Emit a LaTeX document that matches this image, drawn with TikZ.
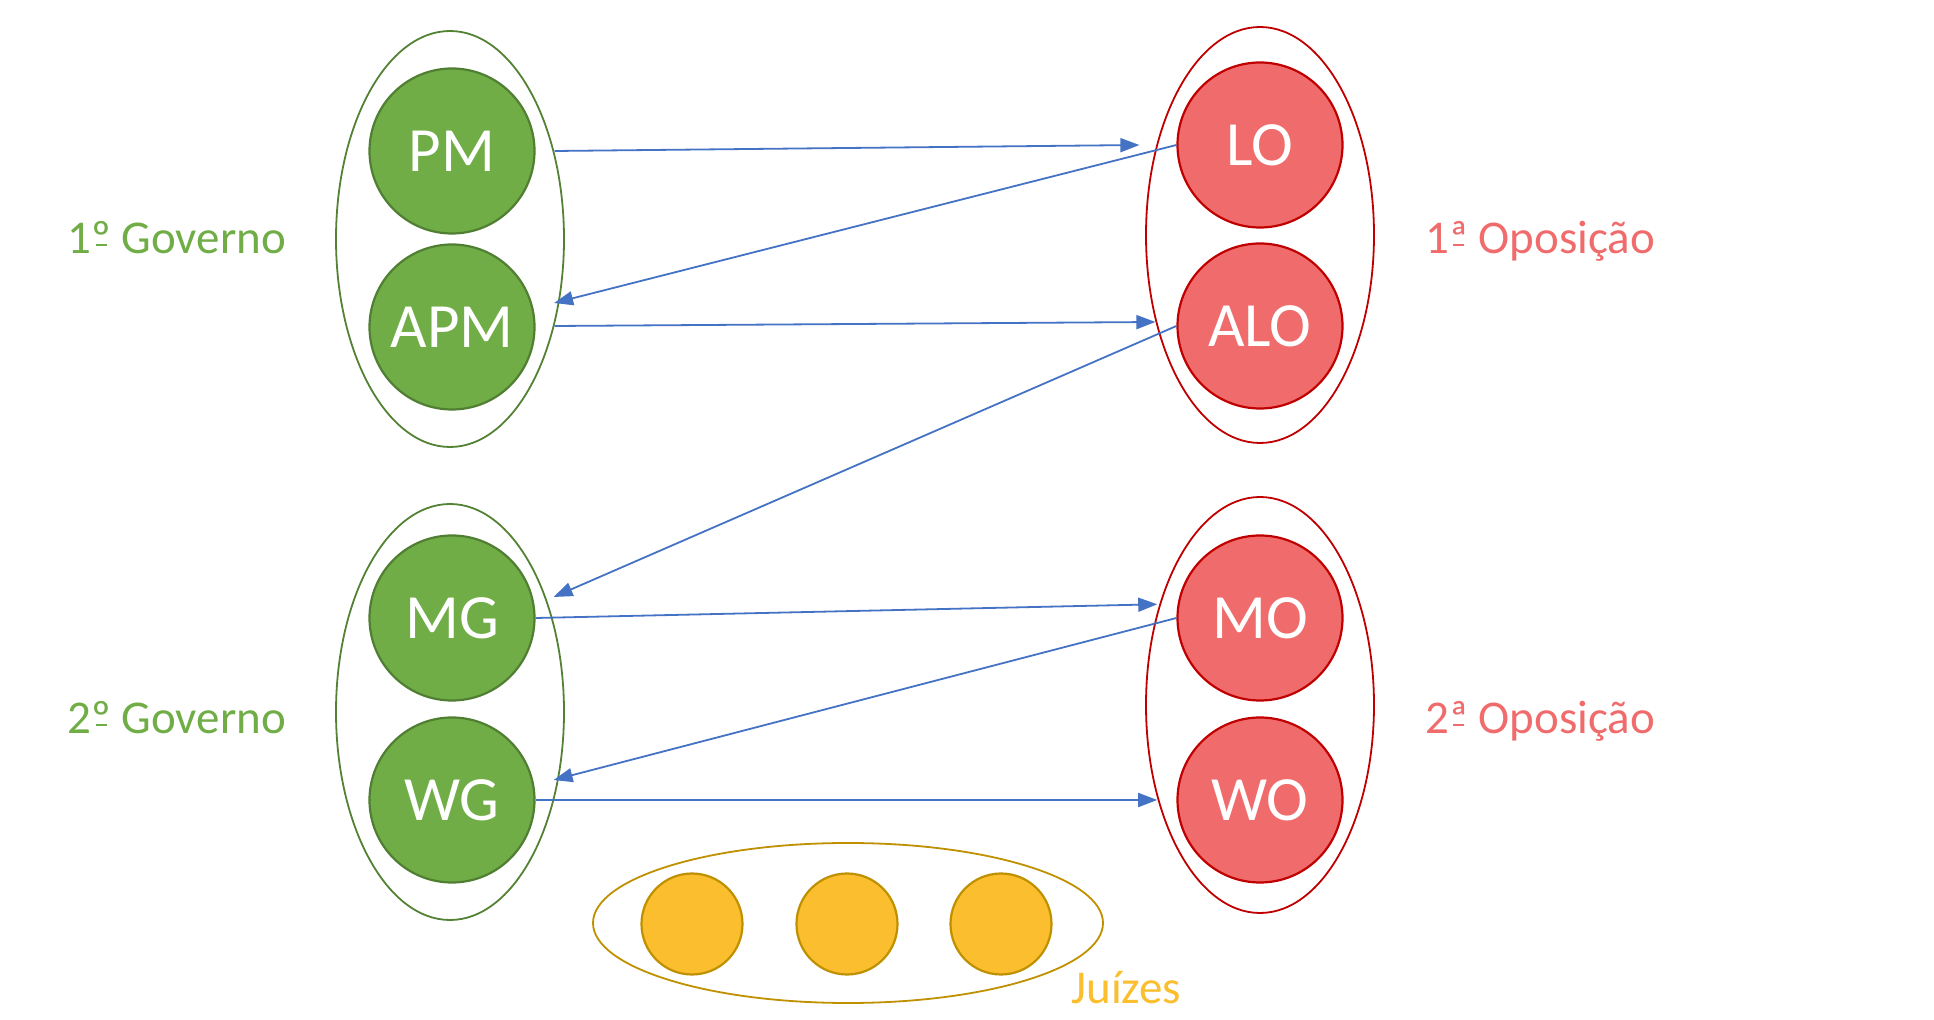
\documentclass[tikz,border=0pt]{standalone}
\usepackage{fontspec}
\setmainfont{Carlito}
\usetikzlibrary{arrows.meta, shapes.geometric}

\definecolor{govfill}{HTML}{70AD47}
\definecolor{govline}{HTML}{507E32}
\definecolor{govring}{HTML}{548235}
\definecolor{oppfill}{HTML}{F06C6C}
\definecolor{oppline}{HTML}{C00000}
\definecolor{judfill}{HTML}{FBBE2E}
\definecolor{judline}{HTML}{BF9000}
\definecolor{linkblue}{HTML}{4472C4}

% underlined ordinal, as the original font draws it
\newcommand{\ordbar}[1]{\ooalign{#1\cr\hidewidth\rule[0.17em]{0.24em}{0.05em}\hidewidth\cr}}

\begin{document}
\begin{tikzpicture}[x=0.5pt, y=-0.5pt,
member/.style={shape=circle, inner sep=0, line width=1.1pt, text=white,
  minimum size=82.5pt, font=\fontsize{31.5}{36}\selectfont},
gov/.style={member, fill=govfill, draw=govline},
opp/.style={member, fill=oppfill, draw=oppline},
judge/.style={shape=circle, inner sep=0, line width=1.1pt, fill=judfill,
  draw=judline, minimum size=50.5pt},
ring/.style={shape=ellipse, inner sep=0, line width=0.9pt},
label/.style={anchor=base west, inner sep=0, font=\fontsize{23.5}{28}\selectfont},
link/.style={draw=linkblue, line width=0.9pt,
  -{Triangle[length=9.5pt, width=7pt]}},
]

% frame
\useasboundingbox (0,0) rectangle (1934,1020);

% groups
\node[ring, draw=govring, minimum width=114pt, minimum height=208pt] at (450,239) (gov1) {};
\node[ring, draw=govring, minimum width=114pt, minimum height=208pt] at (450,712) (gov2) {};
\node[ring, draw=oppline, minimum width=114pt, minimum height=208pt] at (1260,235) (opp1) {};
\node[ring, draw=oppline, minimum width=114pt, minimum height=208pt] at (1260,705) (opp2) {};
\node[ring, draw=judline, minimum width=255pt, minimum height=80pt] at (848,923) (bench) {};

% speakers
\node[gov] at (452,151) (PM) {PM};
\node[gov] at (452,327) (APM) {APM};
\node[gov] at (452,618) (MG) {MG};
\node[gov] at (452,800) (WG) {WG};
\node[opp] at (1260,145) (LO) {LO};
\node[opp] at (1260,326) (ALO) {ALO};
\node[opp] at (1260,618) (MO) {MO};
\node[opp] at (1260,800) (WO) {WO};

% judges
\node[judge] at (692,924) (J1) {};
\node[judge] at (847,924) (J2) {};
\node[judge] at (1001,924) (J3) {};

% annotations
\begin{scope}
\node[label, govfill] at (67,254) (G1) {1\ordbar{º} Governo};
\node[label, govfill] at (67,734) (G2) {2\ordbar{º} Governo};
\node[label, oppfill] at (1425,254) (O1) {1\ordbar{ª} Oposição};
\node[label, oppfill] at (1425,734) (O2) {2\ordbar{ª} Oposição};
\node[label, judfill] at (1071,1003) (JJ) {Juízes};
\end{scope}

% speaking order
\draw[link] ([shift={(19,0)}]PM.east) -- ([shift={(-37,0)}]LO.west);
\draw[link] (LO.west) -- ([shift={(18.5,-24)}]APM.east);
\draw[link] ([shift={(19,-1)}]APM.east) -- ([shift={(-21,-4)}]ALO.west);
\draw[link] (ALO.west) -- ([shift={(18,-21)}]MG.east);
\draw[link] (MG.east) -- ([shift={(-19.2,-13.7)}]MO.west);
\draw[link] (MO.west) -- ([shift={(18,-20)}]WG.east);
\draw[link] (WG.east) -- ([shift={(-19.2,0)}]WO.west);

\end{tikzpicture}
\end{document}
